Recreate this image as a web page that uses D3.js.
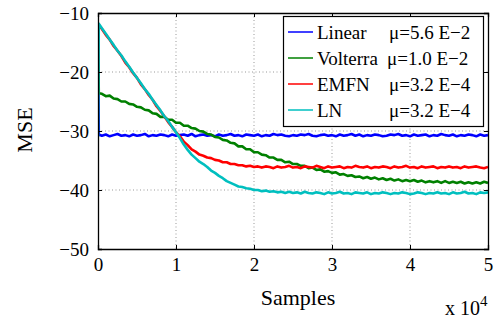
<!DOCTYPE html>
<html><head><meta charset="utf-8">
<script src="https://cdn.jsdelivr.net/npm/d3@7"></script>
<style>body{margin:0;background:#fff}svg{display:block}text{font-family:"Liberation Serif","Times New Roman",serif;fill:#000}</style>
</head><body><svg id="c" width="502" height="320"></svg>
<script>
const xTicks=[0,1,2,3,4,5];
const yTicks=[-10,-20,-30,-40,-50];
const seriesNames=["Linear","Volterra","EMFN","LN"];
const stepSizes=["\u03bc=5.6 E\u22122","\u03bc=1.0 E\u22122","\u03bc=3.2 E\u22124","\u03bc=3.2 E\u22124"];
const colors=["#0000ff","#008000","#ff0000","#00bfbf"];
// samples: 0, 100, then every 500 up to 50000
const samples=[0,100].concat(d3.range(500,50001,500));
const linear=[-12,-30.6,
-30.8,-30.6,-30.9,-30.7,-30.5,-30.8,-30.7,-30.9,-30.6,-30.8,
-30.7,-30.5,-30.9,-30.7,-30.8,-30.6,-30.7,-30.9,-30.6,-30.8,
-30.7,-30.6,-30.8,-30.5,-30.9,-30.7,-30.6,-30.8,-30.7,-30.9,
-30.6,-30.8,-30.7,-30.5,-30.8,-30.7,-30.9,-30.6,-30.7,-30.8,
-30.6,-30.9,-30.7,-30.8,-30.5,-30.7,-30.6,-30.8,-30.9,-30.7,
-30.8,-30.6,-30.7,-30.5,-30.8,-30.9,-30.7,-30.6,-30.8,-30.7,
-30.9,-30.6,-30.8,-30.7,-30.5,-30.8,-30.6,-30.9,-30.7,-30.8,
-30.6,-30.7,-30.9,-30.8,-30.6,-30.7,-30.5,-30.8,-30.7,-30.9,
-30.6,-30.8,-30.7,-30.6,-30.9,-30.7,-30.8,-30.5,-30.7,-30.8,
-30.6,-30.9,-30.7,-30.8,-30.6,-30.7,-30.9,-30.6,-30.8,-30.7];
const volterra=[-12,-23.6,
-23.7,-24.1,-24.0,-24.5,-24.6,-25.0,-25.0,-25.4,-25.5,-25.9,
-26.0,-26.4,-26.5,-27.0,-27.1,-27.6,-27.6,-28.1,-28.1,-28.6,
-28.6,-29.1,-29.1,-29.5,-29.6,-30.0,-30.1,-30.5,-30.6,-31.0,
-31.1,-31.5,-31.6,-32.0,-32.1,-32.6,-32.6,-33.1,-33.1,-33.6,
-33.6,-34.0,-34.1,-34.5,-34.5,-34.9,-34.9,-35.3,-35.2,-35.6,
-35.6,-35.9,-35.9,-36.3,-36.2,-36.6,-36.5,-36.9,-36.8,-37.1,
-37.0,-37.4,-37.3,-37.6,-37.5,-37.8,-37.7,-38.0,-37.8,-38.1,
-37.9,-38.2,-38.0,-38.3,-38.1,-38.4,-38.2,-38.5,-38.3,-38.5,
-38.3,-38.6,-38.4,-38.7,-38.5,-38.7,-38.5,-38.8,-38.5,-38.8,
-38.6,-38.8,-38.6,-38.9,-38.7,-38.9,-38.7,-38.9,-38.6,-38.8];
const emfn=[-11.8,-12.0,
-12.7,-13.7,-14.5,-15.6,-16.4,-17.3,-18.4,-19.2,-20.2,-21.0,
-22.1,-22.9,-23.9,-24.7,-25.8,-26.6,-27.5,-28.5,-29.3,-30.2,
-30.9,-31.8,-32.4,-33.1,-33.5,-34.0,-34.2,-34.5,-34.6,-34.9,
-35.0,-35.3,-35.3,-35.6,-35.6,-35.8,-35.8,-36.0,-35.9,-36.1,
-36.0,-36.2,-36.0,-36.1,-36.3,-36.0,-36.2,-36.1,-35.9,-36.2,
-36.1,-36.3,-36.0,-36.1,-36.2,-35.9,-36.1,-36.3,-36.0,-36.2,
-36.1,-36.0,-36.3,-36.1,-36.2,-35.9,-36.1,-36.2,-36.0,-36.3,
-36.1,-36.2,-36.0,-36.1,-36.3,-36.0,-36.2,-36.1,-35.9,-36.2,
-36.1,-36.3,-36.0,-36.2,-36.1,-36.0,-36.3,-36.1,-36.2,-36.0,
-36.2,-36.1,-36.3,-36.0,-36.2,-36.1,-36.0,-36.2,-36.3,-36.1];
const ln=[-31,-11.8,
-12.6,-13.5,-14.5,-15.4,-16.4,-17.2,-18.2,-19.1,-20.1,-21.0,
-21.9,-22.9,-23.7,-24.7,-25.6,-26.5,-27.5,-28.3,-29.3,-30.2,
-31.2,-32.3,-33.2,-34.0,-34.6,-35.2,-35.6,-36.1,-36.7,-37.1,
-37.6,-38.0,-38.5,-38.8,-39.1,-39.4,-39.5,-39.7,-39.8,-40.0,
-40.0,-40.2,-40.1,-40.3,-40.2,-40.4,-40.3,-40.5,-40.3,-40.5,
-40.4,-40.6,-40.3,-40.5,-40.6,-40.4,-40.5,-40.7,-40.4,-40.6,
-40.5,-40.3,-40.6,-40.5,-40.7,-40.4,-40.5,-40.6,-40.4,-40.7,
-40.5,-40.6,-40.4,-40.5,-40.7,-40.5,-40.6,-40.4,-40.5,-40.7,
-40.6,-40.4,-40.5,-40.7,-40.5,-40.6,-40.4,-40.6,-40.5,-40.7,
-40.4,-40.6,-40.5,-40.3,-40.6,-40.5,-40.7,-40.4,-40.5,-40.4];
const series=[linear,volterra,emfn,ln];

const svg=d3.select("#c");
const L=98,R=488,T=13,B=249;
const x=d3.scaleLinear().domain([0,50000]).range([L,R]);
const y=d3.scaleLinear().domain([-50,-10]).range([B,T]);

// grid
const g=svg.append("g");
g.selectAll(".gx").data(xTicks.slice(1,-1)).enter().append("line")
 .attr("x1",d=>x(d*1e4)).attr("x2",d=>x(d*1e4)).attr("y1",T).attr("y2",B)
 .attr("stroke","#999").attr("stroke-width",1).attr("stroke-dasharray","1,2.5");
g.selectAll(".gy").data(yTicks.slice(1,-1)).enter().append("line")
 .attr("y1",d=>y(d)).attr("y2",d=>y(d)).attr("x1",L).attr("x2",R)
 .attr("stroke","#999").attr("stroke-width",1).attr("stroke-dasharray","1,2.5");

svg.append("defs").append("clipPath").attr("id","clip").append("rect")
 .attr("x",L).attr("y",T).attr("width",R-L).attr("height",B-T);
const line=d3.line().x((d,i)=>x(samples[i])).y(d=>y(d));
svg.append("g").attr("clip-path","url(#clip)").selectAll("path").data(series).enter().append("path")
 .attr("d",d=>line(d)).attr("fill","none").attr("stroke",(d,i)=>colors[i])
 .attr("stroke-width",2.6).attr("stroke-linejoin","round");

// frame and axes
const fmt=d=>d<0?"\u2212"+Math.abs(d):String(d);
const ax=svg.append("g").attr("transform",`translate(0,${B})`)
 .call(d3.axisBottom(x).tickValues(xTicks.map(d=>d*1e4)).tickSize(-4).tickPadding(9).tickFormat(d=>d/1e4));
const ay=svg.append("g").attr("transform",`translate(${L},0)`)
 .call(d3.axisLeft(y).tickValues(yTicks).tickSize(-4).tickPadding(9).tickFormat(fmt));
const at=svg.append("g").attr("transform",`translate(0,${T})`)
 .call(d3.axisTop(x).tickValues(xTicks.map(d=>d*1e4)).tickSize(-4).tickFormat(""));
const ar=svg.append("g").attr("transform",`translate(${R},0)`)
 .call(d3.axisRight(y).tickValues(yTicks).tickSize(-4).tickFormat(""));
[ax,ay,at,ar].forEach(a=>{a.select(".domain").attr("stroke","#000").attr("stroke-width",1.3);
 a.selectAll(".tick line").attr("stroke","#000");
 a.selectAll("text").style("font-family","'Liberation Serif',serif").style("font-size","19px").attr("fill","#000");});
ay.selectAll("text").attr("dy","0.35em");

svg.append("text").attr("x",298).attr("y",305).attr("text-anchor","middle").style("font-size","22px").text("Samples");
svg.append("text").attr("transform","translate(32,130) rotate(-90)").attr("text-anchor","middle").style("font-size","22px").text("MSE");
const ex=svg.append("text").attr("x",445).attr("y",315).style("font-size","20px");
ex.append("tspan").text("x 10");
ex.append("tspan").attr("dy",-9).style("font-size","15px").text("4");

// legend
const lg=svg.append("g");
lg.append("rect").attr("x",283.5).attr("y",16.5).attr("width",200).attr("height",110)
 .attr("fill","#fff").attr("stroke","#000").attr("stroke-width",1.2);
const rows=[32,58,84,110];
const muX=[389,387,389,389];
seriesNames.forEach((n,i)=>{
 lg.append("line").attr("x1",288).attr("x2",313).attr("y1",rows[i]).attr("y2",rows[i]).attr("stroke",colors[i]).attr("stroke-width",1.5);
 lg.append("text").attr("x",317).attr("y",rows[i]).attr("dy","0.35em").style("font-size","19px").text(n);
 lg.append("text").attr("x",muX[i]).attr("y",rows[i]).attr("dy","0.35em").style("font-size","19px").text(stepSizes[i]);
});
</script></body></html>
